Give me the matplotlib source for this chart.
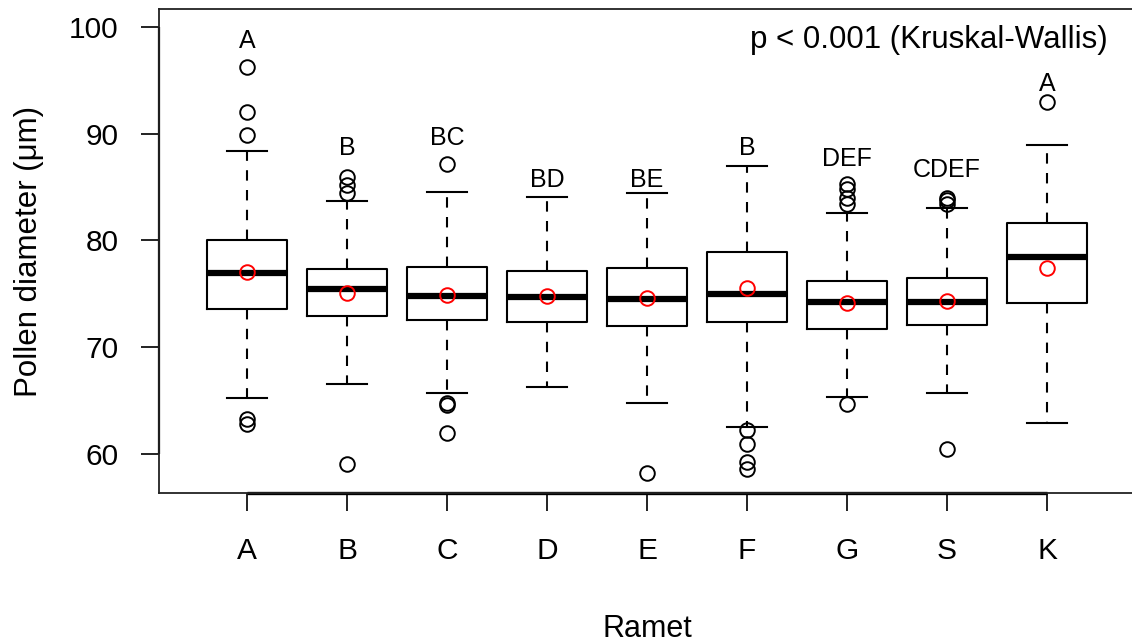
import matplotlib
matplotlib.use("Agg")
import matplotlib.pyplot as plt

plt.rcParams['font.family'] = ['Liberation Sans', 'DejaVu Sans']

# five-number summaries of pollen diameter per ramet (um)
ramets = ['A', 'B', 'C', 'D', 'E', 'F', 'G', 'S', 'K']
medians = [76.9, 75.4, 74.8, 74.7, 74.5, 75.0, 74.2, 74.2, 78.4]
q1 = [73.6, 72.9, 72.5, 72.3, 72.0, 72.3, 71.7, 72.1, 74.1]
q3 = [80.0, 77.3, 77.5, 77.1, 77.4, 78.9, 76.2, 76.5, 81.6]
whisker_lo = [65.2, 66.5, 65.7, 66.3, 64.8, 62.5, 65.3, 65.7, 62.9]
whisker_hi = [88.4, 83.7, 84.5, 84.1, 84.4, 87.0, 82.6, 83.0, 88.9]
means = [77.0, 75.1, 74.9, 74.8, 74.6, 75.5, 74.1, 74.3, 77.4]
outliers = [
    [96.2, 92.0, 89.9, 63.3, 62.8],
    [85.9, 85.2, 84.4, 59.0],
    [87.2, 64.8, 64.6, 61.9],
    [],
    [58.2],
    [62.2, 60.9, 59.2, 58.6],
    [85.3, 84.8, 84.0, 83.4, 64.7],
    [84.0, 83.8, 83.4, 60.4],
    [93.0],
]

# post-hoc grouping letters and the height they sit at
letters = ['A', 'B', 'BC', 'BD', 'BE', 'B', 'DEF', 'CDEF', 'A']
letter_y = [98.0, 88.0, 88.9, 85.0, 85.0, 88.0, 87.0, 85.9, 94.0]

stats = []
for i, name in enumerate(ramets):
    stats.append(dict(label=name, med=medians[i], q1=q1[i], q3=q3[i],
                      whislo=whisker_lo[i], whishi=whisker_hi[i],
                      mean=means[i], fliers=outliers[i]))

W, H = 1132, 644
fig = plt.figure(figsize=(W / 100, H / 100), dpi=100)
ax = fig.add_axes([159 / W, (H - 493) / H, 976 / W, 484 / H])

pos = list(range(1, len(ramets) + 1))
ax.bxp(stats, positions=pos, widths=0.8, capwidths=0.4,
       showmeans=True, patch_artist=False,
       boxprops=dict(color='black', lw=1.5),
       medianprops=dict(color='black', lw=4.5, solid_capstyle='butt'),
       whiskerprops=dict(color='black', lw=1.5, linestyle=(0, (5, 4.5))),
       capprops=dict(color='black', lw=1.5),
       flierprops=dict(marker='o', markerfacecolor='none',
                       markeredgecolor='black', markersize=10.5,
                       markeredgewidth=1.4, linestyle='none'),
       meanprops=dict(marker='o', markerfacecolor='none',
                      markeredgecolor='red', markersize=10.5,
                      markeredgewidth=1.4))

for p, txt, y in zip(pos, letters, letter_y):
    ax.text(p, y, txt, ha='center', va='baseline', fontsize=18)

ax.text(9.61, 98.03, 'p < 0.001 (Kruskal-Wallis)', ha='right',
        va='baseline', fontsize=22.5)

ax.set_xlim(0.12, 9.88)
ax.set_ylim(56.32, 101.68)
ax.set_yticks([60, 70, 80, 90, 100])
ax.set_xticks(pos)
ax.set_xticklabels(ramets)

for s in ax.spines.values():
    s.set_linewidth(1.3)
    s.set_color('#222222')

# R-style axis lines spanning first to last tick
ax.plot([pos[0], pos[-1]], [56.32, 56.32], color='black', lw=2.4,
        clip_on=False, solid_capstyle='butt')
ax.plot([0.12, 0.12], [60, 100], color='black', lw=1.6,
        clip_on=False, solid_capstyle='butt')

ax.tick_params(axis='both', length=13, width=1.4, labelsize=21.5,
               color='#222222')
ax.tick_params(axis='y', pad=16)
ax.tick_params(axis='x', pad=19)

ax.set_ylabel('Pollen diameter (μm)', fontsize=22.5)
ax.yaxis.set_label_coords(-0.118, 0.5)
ax.set_xlabel('Ramet', fontsize=22)
ax.xaxis.set_label_coords(0.5, -0.251)

fig.savefig('out.png', dpi=100)
